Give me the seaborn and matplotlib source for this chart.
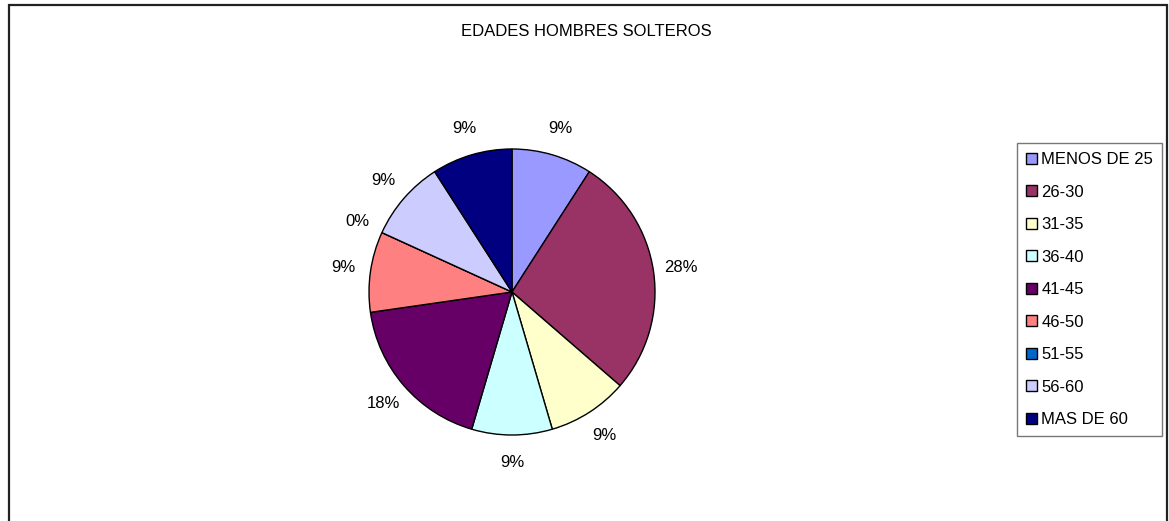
import matplotlib
matplotlib.use("Agg")
import matplotlib.pyplot as plt
import seaborn as sns
from matplotlib.patches import Rectangle, Patch

# Data (counts per age group, with the percentages shown on the chart)
categories = ['MENOS DE 25', '26-30', '31-35', '36-40', '41-45',
              '46-50', '51-55', '56-60', 'MAS DE 60']
counts = [1, 3, 1, 1, 2, 1, 0, 1, 1]
pct_labels = ['9%', '28%', '9%', '9%', '18%', '9%', '0%', '9%', '9%']
colors = ['#9999FF', '#993366', '#FFFFCC', '#CCFFFF', '#660066',
          '#FF8080', '#0066CC', '#CCCCFF', '#000080']
title = 'EDADES HOMBRES SOLTEROS'

sns.set_theme(style='white')
plt.rcParams['font.family'] = ['Liberation Sans', 'DejaVu Sans']
plt.rcParams['text.color'] = 'black'

W, H = 1169, 521
fig = plt.figure(figsize=(W / 100, H / 100), dpi=100)

# outer chart frame
fig.patches.append(Rectangle((8.5 / W, -0.05), (1167 - 8.5) / W, 1 - 4.5 / H + 0.05,
                             transform=fig.transFigure, fill=False,
                             edgecolor='#222222', linewidth=1.6))

cx, cy, r = 512, 292, 143
ax = fig.add_axes([(cx - r) / W, (H - cy - r) / H, 2 * r / W, 2 * r / H])

wedges, texts = ax.pie(counts, labels=pct_labels, colors=colors, startangle=90,
                       counterclock=False, labeldistance=1.19,
                       wedgeprops=dict(edgecolor='black', linewidth=1.0),
                       textprops=dict(fontsize=12, color='black'))
for t in texts:
    t.set_horizontalalignment('center')
    t.set_verticalalignment('center')
ax.set_xlim(-1, 1)
ax.set_ylim(-1, 1)
ax.set_aspect('auto')

fig.text(586 / W, 1 - 32 / H, title, ha='center', va='center', fontsize=12,
         color='black')

handles = [Patch(facecolor=c, edgecolor='black', linewidth=1.0) for c in colors]
leg = fig.legend(handles, categories, loc='upper left',
                 bbox_to_anchor=(1017 / W, 1 - 143 / H), fontsize=12,
                 frameon=True, fancybox=False, edgecolor='#555555',
                 handlelength=0.65, handleheight=0.65, handletextpad=0.25,
                 labelspacing=1.05, borderpad=0.55, borderaxespad=0)
leg.get_frame().set_linewidth(1.0)
for t in leg.get_texts():
    t.set_color('black')

fig.savefig('out.png', dpi=100, facecolor='white')
